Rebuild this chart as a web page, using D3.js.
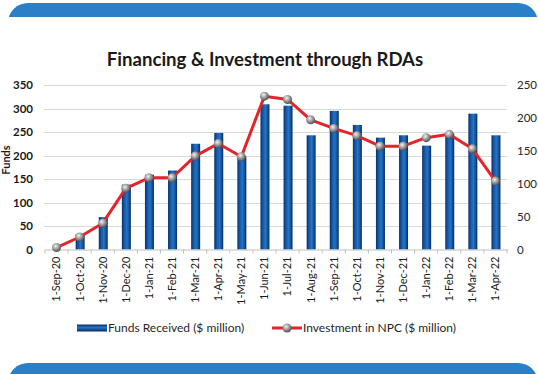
<!DOCTYPE html>
<html>
<head>
<meta charset="utf-8">
<script src="https://cdn.jsdelivr.net/npm/d3@7/dist/d3.min.js"></script>
<style>
  html, body { margin: 0; padding: 0; background: #fff; }
  svg { display: block; }
  text { font-family: Lato, "Liberation Sans", sans-serif; }
</style>
</head>
<body>
<svg id="chart" width="538" height="374"></svg>
<script>
// Monthly figures, Sep 2020 – Apr 2022
const categories = ["1-Sep-20","1-Oct-20","1-Nov-20","1-Dec-20","1-Jan-21","1-Feb-21","1-Mar-21","1-Apr-21","1-May-21","1-Jun-21","1-Jul-21","1-Aug-21","1-Sep-21","1-Oct-21","1-Nov-21","1-Dec-21","1-Jan-22","1-Feb-22","1-Mar-22","1-Apr-22"];
// Funds received, $ million (left axis)
const fundsReceived = [0, 33, 69, 138, 159, 168, 225, 248, 198, 309, 306, 243, 295, 265, 238, 243, 221, 247, 289, 243];
// Investment in NPC, $ million (right axis)
const investmentNPC = [3, 19, 40, 93, 109, 109, 142, 161, 141, 233, 228, 197, 184, 173, 157, 157, 170, 175, 153, 104];
const leftTicks = [0, 50, 100, 150, 200, 250, 300, 350];
const rightTicks = [0, 50, 100, 150, 200, 250];

const title = "Financing & Investment through RDAs";
const leftAxisTitle = "Funds";
const barLegend = "Funds Received ($ million)";
const lineLegend = "Investment in NPC ($ million)";

const svg = d3.select("#chart");
const defs = svg.append("defs");

// Bar shading: dark edges with a lighter centre stripe
const barGrad = defs.append("linearGradient").attr("id", "barGrad")
  .attr("x1", "0%").attr("x2", "100%").attr("y1", "0%").attr("y2", "0%");
[["0%", "#0a3068"], ["25%", "#1456a3"], ["55%", "#2474c6"], ["80%", "#14529d"], ["100%", "#08295a"]]
  .forEach(([o, c]) => barGrad.append("stop").attr("offset", o).attr("stop-color", c));

const legGrad = defs.append("linearGradient").attr("id", "legGrad")
  .attr("x1", "0%").attr("x2", "0%").attr("y1", "0%").attr("y2", "100%");
[["0%", "#0a3068"], ["45%", "#2474c6"], ["100%", "#08295a"]]
  .forEach(([o, c]) => legGrad.append("stop").attr("offset", o).attr("stop-color", c));

// Grey spherical markers
const ball = defs.append("radialGradient").attr("id", "ball")
  .attr("cx", "40%").attr("cy", "35%").attr("r", "65%");
[["0%", "#f2f2f2"], ["45%", "#a6a6a6"], ["100%", "#505050"]]
  .forEach(([o, c]) => ball.append("stop").attr("offset", o).attr("stop-color", c));

// Blue bands at top and bottom
const bandClip = defs.append("clipPath").attr("id", "topBand");
bandClip.append("rect").attr("x", 0).attr("y", 0).attr("width", 538).attr("height", 17);
svg.append("rect").attr("x", 8).attr("y", 3).attr("width", 530).attr("height", 40)
  .attr("rx", 20).attr("fill", "#2b7fc6").attr("clip-path", "url(#topBand)");
svg.append("rect").attr("x", 8).attr("y", 363).attr("width", 530).attr("height", 40)
  .attr("rx", 20).attr("fill", "#2b7fc6");

// Scales
const x = d3.scaleBand().domain(categories).range([45, 507]);
const yL = d3.scaleLinear().domain([0, 350]).range([249.5, 85]);
const yR = d3.scaleLinear().domain([0, 250]).range([249.5, 85]);

// Title
svg.append("text").attr("x", 265).attr("y", 66).attr("text-anchor", "middle")
  .attr("font-size", 18.6).attr("font-weight", 700).attr("fill", "#1a1a1a").text(title);

// Gridlines
svg.append("g").selectAll("line").data(leftTicks.filter(d => d > 0)).join("line")
  .attr("x1", 44).attr("x2", 507)
  .attr("y1", d => Math.round(yL(d)) + 0.5).attr("y2", d => Math.round(yL(d)) + 0.5)
  .attr("stroke", "#d9d9d9").attr("stroke-width", 1);

// Left axis (labels only)
const axL = svg.append("g").attr("transform", "translate(44,0)")
  .call(d3.axisLeft(yL).tickValues(leftTicks).tickSize(0).tickPadding(11));
axL.select(".domain").remove();
axL.selectAll("text").attr("font-size", 11.5).attr("font-weight", 700)
  .attr("fill", "#1a1a1a").style("font-family", "Lato, sans-serif");

// Right axis (labels only)
const axR = svg.append("g").attr("transform", "translate(507,0)")
  .call(d3.axisRight(yR).tickValues(rightTicks).tickSize(0).tickPadding(10));
axR.select(".domain").remove();
axR.selectAll("text").attr("font-size", 11.5).attr("fill", "#262626")
  .style("font-family", "Lato, sans-serif");

// Left axis title, tucked against the left edge
svg.append("text").attr("transform", "translate(10,160) rotate(-90)")
  .attr("text-anchor", "middle").attr("font-size", 11).attr("font-weight", 700)
  .attr("fill", "#1a1a1a").text(leftAxisTitle);

// Bars
const barW = 9;
svg.append("g").selectAll("rect").data(categories).join("rect")
  .attr("x", (d) => x(d) + x.bandwidth() / 2 - barW / 2 + 0.5)
  .attr("y", (d, i) => yL(fundsReceived[i]))
  .attr("width", barW)
  .attr("height", (d, i) => yL(0) - yL(fundsReceived[i]))
  .attr("fill", "url(#barGrad)");

// Category axis
const axX = svg.append("g").attr("transform", `translate(0,${yL(0)})`)
  .call(d3.axisBottom(x).tickSize(0).tickPadding(6));
axX.select(".domain").attr("stroke", "#bfbfbf").attr("stroke-width", 1);
axX.selectAll("text")
  .attr("transform", "rotate(-90)")
  .attr("text-anchor", "end")
  .attr("x", -7).attr("y", 0).attr("dy", "0.35em")
  .attr("font-size", 11).attr("fill", "#1a1a1a")
  .style("font-family", "Lato, sans-serif");
// Boundary tick marks between categories
svg.append("g").selectAll("line").data(categories.concat(["end"])).join("line")
  .attr("x1", (d, i) => 45 + i * x.step()).attr("x2", (d, i) => 45 + i * x.step())
  .attr("y1", yL(0)).attr("y2", yL(0) + 4)
  .attr("stroke", "#bfbfbf").attr("stroke-width", 1);

// Investment line
const line = d3.line()
  .x((d, i) => x(categories[i]) + x.bandwidth() / 2)
  .y(d => yR(d));
svg.append("path").datum(investmentNPC).attr("d", line)
  .attr("fill", "none").attr("stroke", "#e4232b").attr("stroke-width", 3)
  .attr("stroke-linejoin", "round");
svg.append("g").selectAll("circle").data(investmentNPC).join("circle")
  .attr("cx", (d, i) => x(categories[i]) + x.bandwidth() / 2)
  .attr("cy", d => yR(d))
  .attr("r", 4.5)
  .attr("fill", "url(#ball)");

// Legend
const leg = svg.append("g");
leg.append("rect").attr("x", 77).attr("y", 324.5).attr("width", 30).attr("height", 7)
  .attr("fill", "url(#legGrad)");
leg.append("text").attr("x", 108).attr("y", 332).attr("font-size", 12)
  .attr("fill", "#262626").text(barLegend);
leg.append("line").attr("x1", 272).attr("x2", 302).attr("y1", 328).attr("y2", 328)
  .attr("stroke", "#e4232b").attr("stroke-width", 3);
leg.append("circle").attr("cx", 287).attr("cy", 328).attr("r", 4.5).attr("fill", "url(#ball)");
leg.append("text").attr("x", 303).attr("y", 332).attr("font-size", 12)
  .attr("fill", "#262626").text(lineLegend);
</script>
</body>
</html>
